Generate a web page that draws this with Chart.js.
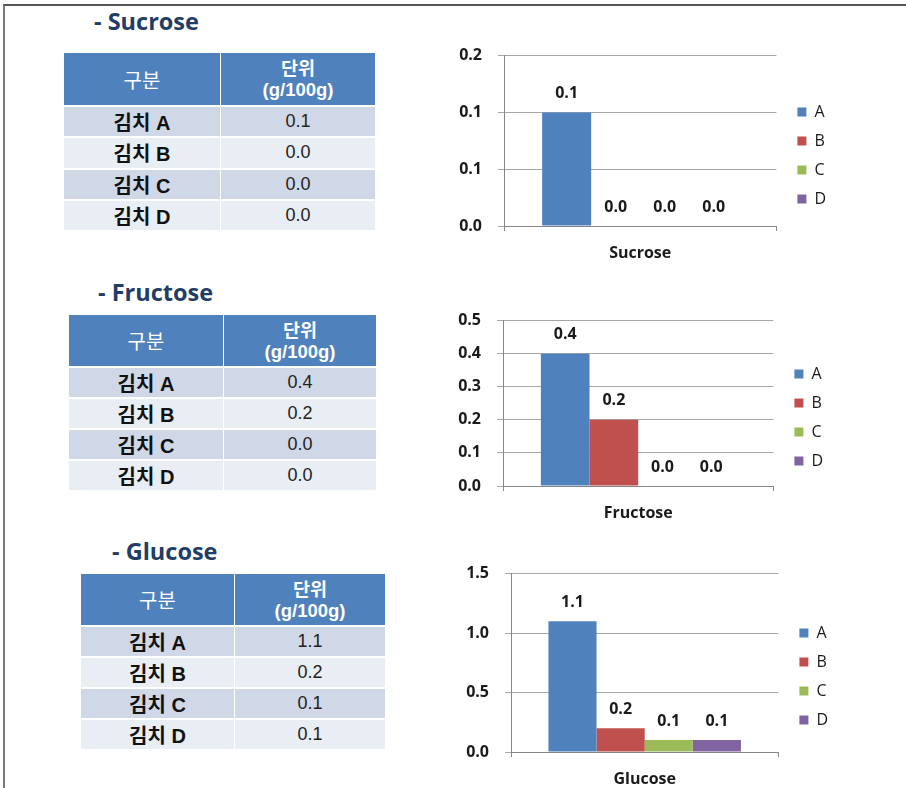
<!DOCTYPE html>
<html>
<head>
<meta charset="utf-8">
<script src="https://cdn.jsdelivr.net/npm/chart.js@4.4.1/dist/chart.umd.min.js"></script>
<style>
  body { margin: 0; width: 906px; height: 788px; background: #fff; position: relative; overflow: hidden;
         font-family: "Liberation Sans", "Noto Sans CJK KR", sans-serif; }
  .frame { position: absolute; left: 3px; top: 4px; width: 920px; height: 800px;
           border-top: 2px solid #555; border-left: 2px solid #7a7a7a; }
  .title { position: absolute; font: bold 23.5px "Open Sans", "Noto Sans CJK KR", sans-serif; color: #1f3d66;
           line-height: 26px; white-space: nowrap; }
  .cell { position: absolute; display: flex; align-items: center; justify-content: center; text-align: center; }
  .head { background: #4f81bd; color: #fff; }
  .band1 { background: #d0d8e8; }
  .band2 { background: #e9edf4; }
  .chartbox { position: absolute; }
  .chartbox canvas { display: block; }
</style>
</head>
<body>
<div class="frame"></div>
<div class="title" style="left:94px; top:8px;">- Sucrose</div>
<div class="title" style="left:98px; top:279px;">- Fructose</div>
<div class="title" style="left:112px; top:538px;">- Glucose</div>

<div class="chartbox" style="left:440px; top:30px;"><canvas id="sucroseChart" width="396" height="232"></canvas></div>
<div class="chartbox" style="left:440px; top:295px;"><canvas id="fructoseChart" width="393" height="227"></canvas></div>
<div class="chartbox" style="left:440px; top:548px;"><canvas id="glucoseChart" width="398" height="240"></canvas></div>

<script>
// data
const kimchi = ["A", "B", "C", "D"];
const kimchiNames = ["김치 A", "김치 B", "김치 C", "김치 D"];
const colors = ["#4f81bd", "#c0504d", "#9bbb59", "#8064a2"];

const sucroseValues = [0.1, 0.0, 0.0, 0.0];
const fructoseValues = [0.4, 0.2, 0.0, 0.0];
const glucoseValues = [1.1, 0.2, 0.1, 0.1];

const sucroseTicks = ["0.0", "0.1", "0.1", "0.2"];
const fructoseTicks = ["0.0", "0.1", "0.2", "0.3", "0.4", "0.5"];
const glucoseTicks = ["0.0", "0.5", "1.0", "1.5"];

// tables (HTML)
function makeTable(values, t) {
  const parts = [];
  const w1 = t.divider - t.left;
  const w2 = t.right - t.divider - 1;
  parts.push(`<div class="cell head" style="left:${t.left}px;top:${t.top}px;width:${w1}px;height:${t.headH}px;font-size:20px;">구분</div>`);
  parts.push(`<div class="cell head" style="left:${t.divider + 1}px;top:${t.top}px;width:${w2}px;height:${t.headH}px;font-size:18.5px;font-weight:bold;line-height:21px;">단위<br>(g/100g)</div>`);
  values.forEach((v, i) => {
    const y = t.rowTop + i * t.pitch;
    const cls = i % 2 === 0 ? "band1" : "band2";
    parts.push(`<div class="cell ${cls}" style="left:${t.left}px;top:${y}px;width:${w1}px;height:${t.pitch - 2}px;font-size:20px;font-weight:bold;color:#111;">${kimchiNames[i]}</div>`);
    parts.push(`<div class="cell ${cls}" style="left:${t.divider + 1}px;top:${y}px;width:${w2}px;height:${t.pitch - 2}px;font-size:18px;color:#222;">${v.toFixed(1)}</div>`);
  });
  document.body.insertAdjacentHTML("beforeend", parts.join(""));
}

makeTable(sucroseValues, { left: 64, divider: 220, right: 375, top: 53, headH: 52, rowTop: 107, pitch: 31.3 });
makeTable(fructoseValues, { left: 69, divider: 223, right: 376, top: 315, headH: 51, rowTop: 368, pitch: 31 });
makeTable(glucoseValues, { left: 81, divider: 234, right: 385, top: 574, headH: 51, rowTop: 627, pitch: 31 });

// charts
Chart.defaults.font.family = '"Open Sans", "Noto Sans", sans-serif';
Chart.defaults.color = "#1a1a1a";

const valueLabels = {
  id: "valueLabels",
  afterDatasetsDraw(chart) {
    const ctx = chart.ctx;
    ctx.save();
    ctx.font = 'bold 16px "Open Sans", sans-serif';
    ctx.fillStyle = "#1a1a1a";
    ctx.textAlign = "center";
    ctx.textBaseline = "bottom";
    chart.data.datasets.forEach((ds, i) => {
      chart.getDatasetMeta(i).data.forEach((bar, j) => {
        ctx.fillText(ds.data[j].toFixed(1), bar.x, bar.y - 11);
      });
    });
    ctx.restore();
  }
};

// legendTop: blank legend title height, pushes the A-D list down to where it sits in the picture
function makeChart(id, category, values, tickLabels, yMax, step, yWidth, legendTop) {
  new Chart(document.getElementById(id), {
    type: "bar",
    data: {
      labels: [category],
      datasets: kimchi.map((k, i) => ({
        label: k,
        data: [values[i]],
        backgroundColor: colors[i],
        barPercentage: 1,
        categoryPercentage: 0.72
      }))
    },
    options: {
      responsive: false,
      animation: false,
      layout: { padding: 0 },
      plugins: {
        legend: {
          position: "right",
          align: "start",
          title: { display: true, text: " ", font: { size: 10, lineHeight: 1 }, padding: { top: legendTop - 10, bottom: 0 } },
          labels: { boxWidth: 9, boxHeight: 9, padding: 13, font: { size: 16 }, color: "#1a1a1a" }
        },
        tooltip: { enabled: false }
      },
      scales: {
        x: {
          offset: true,
          grid: { display: true, drawOnChartArea: false, offset: true, tickLength: 5, color: "#868686" },
          border: { color: "#868686" },
          ticks: { font: { size: 16, weight: "bold" }, padding: 13, color: "#1a1a1a" },
          afterFit(scale) { scale.height = 36; }
        },
        y: {
          min: 0,
          max: yMax,
          grid: { color: "#a6a6a6", tickLength: 6 },
          border: { color: "#868686" },
          ticks: {
            stepSize: step,
            padding: 16,
            font: { size: 16, weight: "bold" },
            color: "#1a1a1a",
            callback: (v, i) => tickLabels[i]
          },
          afterFit(scale) { scale.width = yWidth; }
        },
        gap: {
          type: "linear",
          axis: "y",
          position: "right",
          grid: { display: false },
          border: { display: false },
          ticks: { display: false },
          afterFit(scale) { scale.width = 8; }
        }
      }
    },
    plugins: [valueLabels]
  });
}

makeChart("sucroseChart", "Sucrose", sucroseValues, sucroseTicks, 0.15, 0.05, 64, 61);
makeChart("fructoseChart", "Fructose", fructoseValues, fructoseTicks, 0.5, 0.1, 63, 58);
makeChart("glucoseChart", "Glucose", glucoseValues, glucoseTicks, 1.5, 0.5, 71, 64);
</script>
</body>
</html>
